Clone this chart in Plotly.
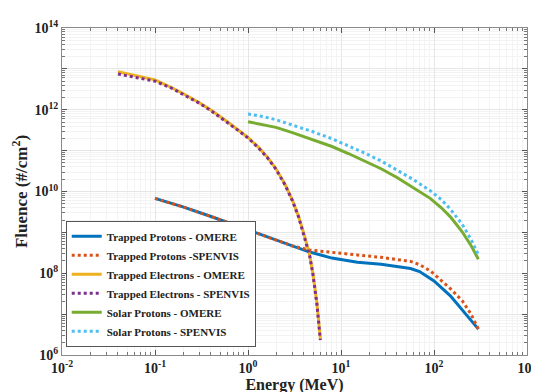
import plotly.graph_objects as go

# ---- data ----
tp_omere_E = [0.1, 0.2, 0.4, 0.7, 1.0, 1.5, 2.0, 3.0, 4.6, 8, 10, 15, 27, 40, 56, 70, 91, 100, 150, 202, 250, 300]
tp_omere_F = [6.8e9, 4.2e9, 2.45e9, 1.55e9, 1.15e9, 8.1e8, 6.3e8, 4.6e8, 3.3e8, 2.35e8, 2.15e8, 1.85e8,
              1.65e8, 1.48e8, 1.3e8, 1.1e8, 7.6e7, 6.5e7, 2.8e7, 1.26e7, 7.1e6, 4.3e6]

tp_spenvis_E = [0.1, 0.2, 0.4, 0.7, 1.0, 1.5, 2.0, 3.0, 4.6, 8, 10, 15, 27, 40, 56, 70, 91, 120, 150, 202, 250, 300]
tp_spenvis_F = [6.8e9, 4.2e9, 2.45e9, 1.55e9, 1.15e9, 8.1e8, 6.3e8, 4.65e8, 3.7e8, 3.3e8, 3.15e8, 2.8e8,
                2.45e8, 2.2e8, 1.95e8, 1.62e8, 1.15e8, 6.6e7, 4.2e7, 2.1e7, 1.0e7, 4.3e6]

te_omere_E = [0.04, 0.06, 0.08, 0.1, 0.15, 0.2, 0.3, 0.4, 0.6, 0.8, 1.0, 1.3, 1.6, 2.0, 2.5, 3.0, 3.5, 4.0, 4.6, 5.0, 5.5, 6.0]
te_omere_F = [8.5e12, 6.9e12, 6.0e12, 5.4e12, 3.5e12, 2.5e12, 1.48e12, 9.8e11, 5.1e11, 3.1e11, 2.1e11, 1.2e11,
              7.1e10, 3.6e10, 1.5e10, 6.2e9, 2.45e9, 9.1e8, 2.8e8, 9.5e7, 1.9e7, 2.5e6]

te_spenvis_E = [0.04, 0.06, 0.08, 0.1, 0.15, 0.2, 0.3, 0.4, 0.6, 0.8, 1.0, 1.3, 1.6, 2.0, 2.5, 3.0, 3.5, 4.0, 4.6, 5.0, 5.5, 6.0]
te_spenvis_F = [7.5e12, 6.3e12, 5.6e12, 5.0e12, 3.4e12, 2.42e12, 1.44e12, 9.5e11, 4.95e11, 3.0e11, 2.04e11, 1.16e11,
                6.9e10, 3.5e10, 1.45e10, 6.0e9, 2.38e9, 8.8e8, 2.7e8, 9.2e7, 1.8e7, 2.3e6]

sp_omere_E = [1, 1.5, 2, 3, 5, 8, 12, 18, 27, 40, 60, 91, 120, 150, 200, 250, 300]
sp_omere_F = [5.1e11, 4.3e11, 3.7e11, 2.75e11, 1.86e11, 1.26e11, 8.5e10, 5.6e10, 3.6e10, 2.2e10, 1.26e10,
              6.8e9, 4.0e9, 2.4e9, 1.05e9, 4.8e8, 2.2e8]

sp_spenvis_E = [1, 1.5, 2, 3, 5, 8, 12, 18, 27, 40, 60, 91, 120, 150, 200, 250, 300]
sp_spenvis_F = [7.9e11, 6.7e11, 5.7e11, 4.3e11, 2.9e11, 1.95e11, 1.32e11, 8.7e10, 5.6e10, 3.4e10, 1.95e10,
                1.05e10, 6.3e9, 3.7e9, 1.6e9, 6.8e8, 2.8e8]

series_names = ["Trapped Protons - OMERE", "Trapped Protons -SPENVIS",
                "Trapped Electrons - OMERE", "Trapped Electrons - SPENVIS",
                "Solar Protons - OMERE", "Solar Protons - SPENVIS"]

x_tick_vals = [1e-2, 1e-1, 1e0, 1e1, 1e2, 1e3]
x_tick_text = ["10<sup>-2</sup>", "10<sup>-1</sup>", "10<sup>0</sup>", "10<sup>1</sup>", "10<sup>2</sup>", "10<sup>3</sup>"]
y_tick_vals = [1e6, 1e7, 1e8, 1e9, 1e10, 1e11, 1e12, 1e13, 1e14]
y_tick_text = ["10<sup>6</sup>", "", "10<sup>8</sup>", "", "10<sup>10</sup>", "", "10<sup>12</sup>", "", "10<sup>14</sup>"]

colors = ["#0072BD", "#D95319", "#EDB120", "#7E2F8E", "#77AC30", "#4DBEEE"]
dashes = ["solid", "dot", "solid", "dot", "solid", "dot"]

data = [(tp_omere_E, tp_omere_F), (tp_spenvis_E, tp_spenvis_F),
        (te_omere_E, te_omere_F), (te_spenvis_E, te_spenvis_F),
        (sp_omere_E, sp_omere_F), (sp_spenvis_E, sp_spenvis_F)]

FONT = "Liberation Serif"

fig = go.Figure()
for (xs, ys), name, c, d in zip(data, series_names, colors, dashes):
    fig.add_trace(go.Scatter(x=xs, y=ys, mode="lines", name=name,
                             line=dict(color=c, width=3, dash=d)))

axis_common = dict(type="log", showline=True, linecolor="#8a8a8a", linewidth=1, mirror="ticks",
                   ticks="inside", ticklen=5, tickcolor="#555", showgrid=True, gridcolor="#e6e6e6",
                   zeroline=False, ticklabeloverflow="allow",
                   tickfont=dict(family=FONT, size=14, color="#222", weight="bold"),
                   minor=dict(ticks="inside", ticklen=3, tickcolor="#777", showgrid=True,
                              gridcolor="#f3f3f3", dtick="D1"))

fig.update_layout(
    width=539, height=392,
    margin=dict(l=54, r=10, t=19, b=45),
    paper_bgcolor="white", plot_bgcolor="white",
    font=dict(family=FONT, color="#222"),
    xaxis=dict(axis_common, range=[-2, 3], tickmode="array", tickvals=x_tick_vals, ticktext=x_tick_text,
               title=dict(text="Energy (MeV)", standoff=0,
                          font=dict(family=FONT, size=16, color="#222", weight="bold"))),
    yaxis=dict(axis_common, range=[6, 14], tickmode="array", tickvals=y_tick_vals, ticktext=y_tick_text,
               title=dict(text="Fluence (#/cm<sup>2</sup>)", standoff=2,
                          font=dict(family=FONT, size=17, color="#222", weight="bold"))),
    legend=dict(x=0.008, y=0.025, xanchor="left", yanchor="bottom",
                bgcolor="white", bordercolor="#555", borderwidth=1,
                font=dict(family=FONT, size=11, color="#222", weight="bold"),
                tracegroupgap=0, itemwidth=30),
    showlegend=True,
)

fig.write_html("out.html")
